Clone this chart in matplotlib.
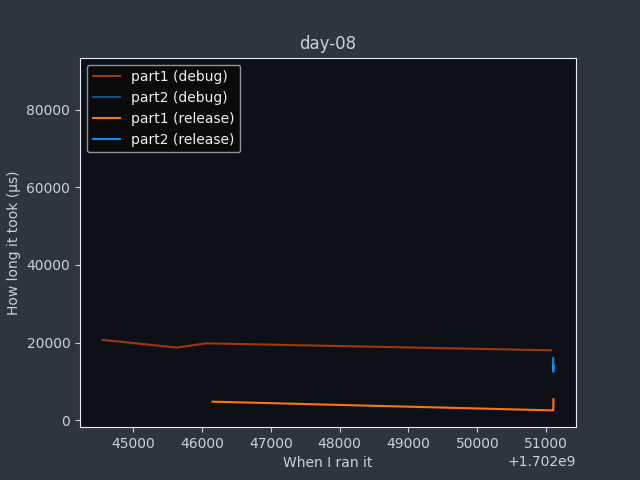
import matplotlib
matplotlib.use('Agg')
import matplotlib.pyplot as plt

BASE = 1.702e9

# timestamps (seconds, offset from 1.702e9) and run times in microseconds
p1_debug_t = [44556, 45633, 46063, 51068]
p1_debug_us = [20700, 18700, 19800, 18000]

p2_debug_t = [44556, 45633, 46063]
p2_debug_us = [89100, 87000, 88000]

p1_release_t = [46155, 51101, 51104, 51106]
p1_release_us = [4770, 2520, 2600, 5400]

p2_release_t = [51102, 51104, 51106]
p2_release_us = [16000, 12500, 14000]

FG = '#c9d1d9'

fig, ax = plt.subplots(figsize=(6.4, 4.8), dpi=100)
fig.patch.set_facecolor('#2f353d')
ax.set_facecolor('#0d1117')

ax.plot([BASE + t for t in p1_debug_t], p1_debug_us, color='#9b3a06', lw=1.5, label='part1 (debug)')
ax.plot([BASE + t for t in p2_debug_t], p2_debug_us, color='#0b4f8a', lw=1.5, label='part2 (debug)')
ax.plot([BASE + t for t in p1_release_t], p1_release_us, color='#ff7410', lw=1.5, label='part1 (release)')
ax.plot([BASE + t for t in p2_release_t], p2_release_us, color='#0e8ef0', lw=1.5, label='part2 (release)')

ax.set_title('day-08', color=FG)
ax.set_xlabel('When I ran it', color=FG)
ax.set_ylabel('How long it took (µs)', color=FG)
ax.tick_params(colors=FG)
ax.xaxis.get_offset_text().set_color(FG)
for sp in ax.spines.values():
    sp.set_color('#e6edf3')

leg = ax.legend(loc='upper left', facecolor='#0a0a0a', edgecolor='#8b949e', framealpha=1.0)
for txt in leg.get_texts():
    txt.set_color('#f0f0f0')

fig.savefig('out.png', dpi=100, facecolor=fig.get_facecolor())
